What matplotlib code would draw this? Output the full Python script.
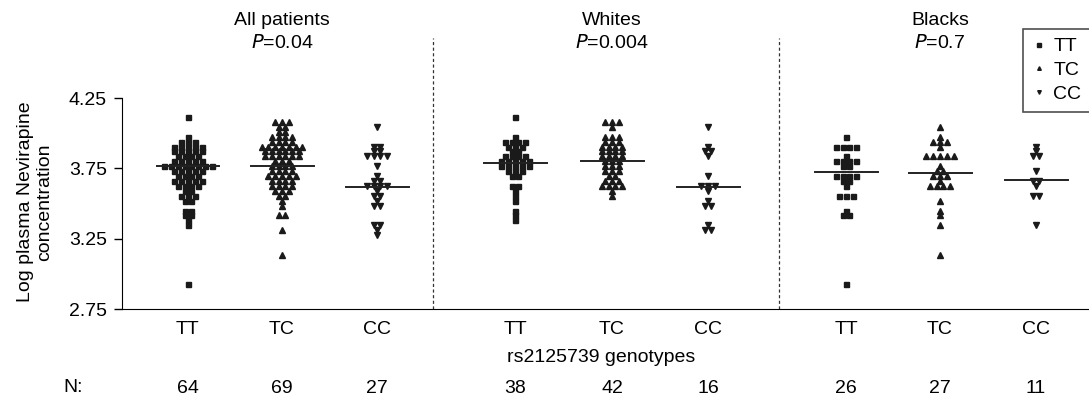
import matplotlib
matplotlib.use("Agg")
import matplotlib.pyplot as plt
import numpy as np

plt.rcParams['font.family'] = ['Liberation Sans', 'DejaVu Sans']

# values (log plasma nevirapine)
all_tt = [4.12, 3.99, 3.94, 3.93, 3.93, 3.92, 3.90, 3.90, 3.89, 3.89, 3.88, 3.87, 3.87, 3.86, 3.86,
          3.84, 3.84, 3.83, 3.83, 3.81, 3.80, 3.80, 3.79, 3.79, 3.78, 3.78, 3.77, 3.77, 3.77, 3.76,
          3.76, 3.75, 3.74, 3.74, 3.73, 3.73, 3.72, 3.71, 3.70, 3.69, 3.68, 3.67, 3.67, 3.66, 3.66,
          3.65, 3.64, 3.63, 3.62, 3.61, 3.60, 3.58, 3.57, 3.56, 3.54, 3.53, 3.52, 3.46, 3.45, 3.43,
          3.40, 3.39, 3.36, 2.93]
all_tc = [4.08, 4.07, 4.07, 4.06, 4.03, 4.02, 4.00, 3.97, 3.96, 3.96, 3.96, 3.95, 3.95, 3.95, 3.94,
          3.92, 3.91, 3.91, 3.91, 3.90, 3.90, 3.89, 3.88, 3.87, 3.87, 3.87, 3.86, 3.86, 3.85, 3.84,
          3.83, 3.83, 3.82, 3.82, 3.80, 3.79, 3.79, 3.78, 3.77, 3.76, 3.75, 3.74, 3.73, 3.73, 3.72,
          3.71, 3.70, 3.70, 3.69, 3.68, 3.67, 3.66, 3.66, 3.65, 3.64, 3.63, 3.63, 3.62, 3.60, 3.59,
          3.58, 3.56, 3.55, 3.51, 3.47, 3.43, 3.40, 3.32, 3.12]
all_cc = [4.04, 3.91, 3.90, 3.88, 3.87, 3.85, 3.84, 3.83, 3.82, 3.75, 3.69, 3.65, 3.65, 3.64, 3.64,
          3.63, 3.63, 3.58, 3.57, 3.57, 3.52, 3.48, 3.48, 3.36, 3.35, 3.30, 3.29]
whites_tt = [4.13, 3.96, 3.95, 3.95, 3.94, 3.94, 3.91, 3.91, 3.90, 3.87, 3.86, 3.85, 3.83, 3.82, 3.82,
             3.81, 3.81, 3.80, 3.79, 3.79, 3.78, 3.78, 3.76, 3.75, 3.75, 3.74, 3.73, 3.72, 3.70, 3.69,
             3.64, 3.63, 3.60, 3.55, 3.53, 3.45, 3.42, 3.38]
whites_tc = [4.09, 4.08, 4.07, 4.03, 3.99, 3.98, 3.96, 3.95, 3.95, 3.94, 3.92, 3.92, 3.91, 3.91, 3.88,
             3.88, 3.87, 3.87, 3.85, 3.84, 3.84, 3.83, 3.81, 3.81, 3.80, 3.77, 3.77, 3.76, 3.74, 3.73,
             3.73, 3.70, 3.69, 3.66, 3.65, 3.65, 3.62, 3.62, 3.61, 3.61, 3.58, 3.55]
whites_cc = [4.04, 3.90, 3.88, 3.88, 3.85, 3.69, 3.64, 3.63, 3.63, 3.58, 3.51, 3.49, 3.49, 3.36, 3.31, 3.30]
blacks_tt = [3.99, 3.91, 3.90, 3.90, 3.89, 3.84, 3.81, 3.80, 3.80, 3.79, 3.77, 3.76, 3.71, 3.70, 3.69,
             3.68, 3.67, 3.66, 3.63, 3.57, 3.55, 3.54, 3.45, 3.42, 3.41, 2.93]
blacks_tc = [4.04, 3.96, 3.95, 3.95, 3.94, 3.89, 3.85, 3.84, 3.84, 3.83, 3.83, 3.76, 3.73, 3.72, 3.69,
             3.68, 3.68, 3.67, 3.63, 3.62, 3.62, 3.61, 3.53, 3.45, 3.43, 3.33, 3.13]
blacks_cc = [3.90, 3.88, 3.84, 3.82, 3.74, 3.66, 3.65, 3.62, 3.57, 3.55, 3.35]

groups = [all_tt, all_tc, all_cc, whites_tt, whites_tc, whites_cc, blacks_tt, blacks_tc, blacks_cc]
genotypes = ['TT', 'TC', 'CC'] * 3
center_lines = [3.77, 3.77, 3.615, 3.79, 3.80, 3.62, 3.725, 3.72, 3.665]
panels = ['All patients', 'Whites', 'Blacks']
p_values = ['0.04', '0.004', '0.7']

# x positions in hundreds of pixels of the original layout
positions = [1.88, 2.82, 3.77, 5.15, 6.12, 7.08, 8.46, 9.40, 10.36]
separators = [4.33, 7.79]
markers = {'TT': 's', 'TC': '^', 'CC': 'v'}
msizes = {'TT': 3.6, 'TC': 4.6, 'CC': 4.6}

W, H = 1089, 405
fig = plt.figure(figsize=(W / 100, H / 100), dpi=100)
ax = fig.add_axes([122 / W, 1 - 309 / H, 1 - 122 / W, (309 - 98) / H])
ax.set_xlim(1.22, 10.89)
ax.set_ylim(2.75, 4.25)

px_x = 100.0   # pixels per x unit
px_y = 140.5   # pixels per y unit
row_h = 0.035  # height of one row of the dot plot
step = 6.8     # horizontal spacing inside a row (px)


def dot_rows(vals, x0):
    # binned dot plot: each value goes to its row, rows are spread sideways
    vals = np.sort(np.asarray(vals))[::-1]
    rows = np.round((vals - 2.75) / row_h).astype(int)
    xs = np.zeros(len(vals))
    for r in np.unique(rows):
        idx = np.where(rows == r)[0]
        n = len(idx)
        xs[idx] = x0 + (np.arange(n) - (n - 1) / 2) * step / px_x
    return xs, 2.75 + rows * row_h


for vals, g, x0, c in zip(groups, genotypes, positions, center_lines):
    xs, ys = dot_rows(vals, x0)
    ax.plot(xs, ys, linestyle='none', marker=markers[g], ms=msizes[g],
            color='#1a1a1a', mec='#1a1a1a')
    ax.plot([x0 - 0.315, x0 + 0.315], [c, c], color='#222222', lw=1.4)

for xs in separators:
    ax.plot([xs, xs], [2.75, 4.68], color='#333333', lw=0.9, ls=(0, (2.5, 2)), clip_on=False)

fs = 14
for i, (name, p) in enumerate(zip(panels, p_values)):
    xc = positions[3 * i + 1]
    ax.text(xc, 4.25 + (98 - 21) / px_y, name, ha='center', va='center', fontsize=fs)
    ax.text(xc, 4.25 + (98 - 43) / px_y, '$\\it{P}$=' + p, ha='center', va='center', fontsize=fs)

ax.spines['top'].set_visible(False)
ax.spines['right'].set_visible(False)
ax.set_yticks([2.75, 3.25, 3.75, 4.25])
ax.set_yticklabels(['2.75', '3.25', '3.75', '4.25'], fontsize=fs)
ax.tick_params(axis='y', length=6, width=1, pad=5)
ax.set_xticks(positions)
ax.set_xticklabels(genotypes, fontsize=fs)
ax.tick_params(axis='x', length=0, pad=9)

fig.text(35 / W, 1 - 202 / H, 'Log plasma Nevirapine\nconcentration', rotation=90,
         ha='center', va='center', fontsize=fs, linespacing=1.15)
fig.text(601 / W, 1 - 357 / H, 'rs2125739 genotypes', ha='center', va='center', fontsize=fs)
fig.text(63 / W, 1 - 388 / H, 'N:', ha='left', va='center', fontsize=fs)
for vals, x0 in zip(groups, positions):
    ax.text(x0, 2.75 - (388 - 309) / px_y, str(len(vals)), ha='center', va='center', fontsize=fs)

handles = [plt.Line2D([], [], ls='none', marker=markers[g], ms=2.6, color='#1a1a1a') for g in ['TT', 'TC', 'CC']]
leg = fig.legend(handles, ['TT', 'TC', 'CC'], loc='upper left', bbox_to_anchor=(1023 / W, 1 - 29 / H),
                 frameon=True, fancybox=False, fontsize=fs, handlelength=0.7, handletextpad=0.4,
                 borderpad=0.45, labelspacing=0.32, borderaxespad=0)
leg.get_frame().set_edgecolor('#222222')
leg.get_frame().set_linewidth(1.2)

fig.savefig('out.png', dpi=100)
